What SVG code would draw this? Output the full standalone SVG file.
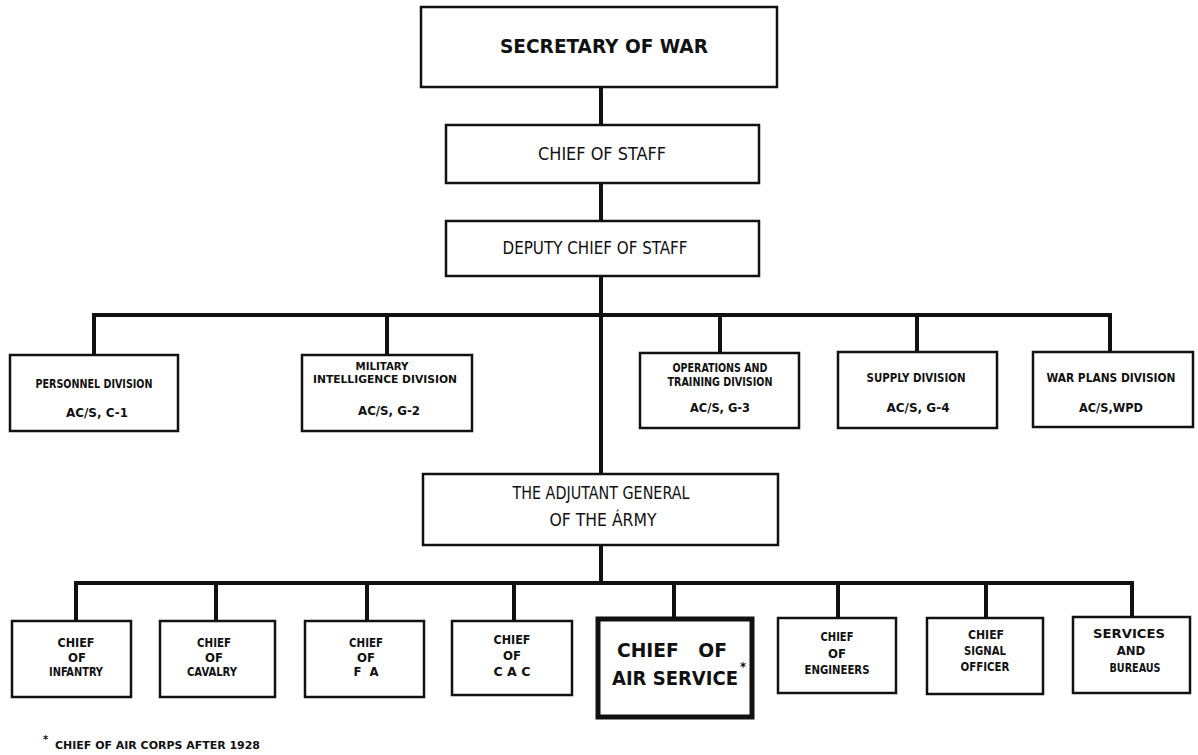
<svg xmlns="http://www.w3.org/2000/svg" width="1198" height="755" viewBox="0 0 1198 755">
<style>
.box{fill:#fff;stroke:#111;stroke-width:2.5}
.thick{fill:#fff;stroke:#111;stroke-width:5}
.c{fill:none;stroke:#111;stroke-width:4;stroke-linecap:square}
text{font-family:"DejaVu Sans Condensed","DejaVu Sans","Liberation Sans",sans-serif;font-weight:bold;fill:#111;text-anchor:middle}
.big{font-size:20px}
.mid{font-size:17px;font-weight:normal}
.sm{font-size:13px}
.xs{font-size:11px}
.fn{font-size:11px;text-anchor:start}
</style>
<rect width="1198" height="755" fill="#fff"/>
<g id="connectors">
<path class="c" d="M601 87V125M601 183V221M601 276V474M601 545V583"/>
<path class="c" d="M94 355V315H1110V352M387 315V355M720 315V353M917 315V352"/>
<path class="c" d="M76 621V583H1132V617M216 583V621M367 583V621M514 583V621M674 583V619M838 583V618M986 583V618"/>
</g>
<g id="secretary">
<rect class="box" x="421" y="7" width="356" height="80"/>
<text class="big" x="604" y="53" textLength="208" lengthAdjust="spacingAndGlyphs">SECRETARY OF WAR</text>
</g>
<g id="chief-of-staff">
<rect class="box" x="446" y="125" width="313" height="58"/>
<text class="mid" x="602" y="160" textLength="128" lengthAdjust="spacingAndGlyphs">CHIEF OF STAFF</text>
</g>
<g id="deputy">
<rect class="box" x="446" y="221" width="313" height="55"/>
<text class="mid" x="595" y="254" textLength="185" lengthAdjust="spacingAndGlyphs">DEPUTY CHIEF OF STAFF</text>
</g>
<g id="personnel">
<rect class="box" x="10" y="355" width="168" height="76"/>
<text class="sm" x="94" y="388" textLength="117" lengthAdjust="spacingAndGlyphs">PERSONNEL DIVISION</text>
<text class="sm" x="97" y="417" textLength="62" lengthAdjust="spacingAndGlyphs">AC/S, C-1</text>
</g>
<g id="military-intelligence">
<rect class="box" x="302" y="355" width="170" height="76"/>
<text class="xs" x="382" y="370" textLength="53" lengthAdjust="spacingAndGlyphs">MILITARY</text>
<text class="xs" x="385" y="383" textLength="144" lengthAdjust="spacingAndGlyphs">INTELLIGENCE DIVISION</text>
<text class="sm" x="389" y="415" textLength="62" lengthAdjust="spacingAndGlyphs">AC/S, G-2</text>
</g>
<g id="operations">
<rect class="box" x="640" y="353" width="159" height="75"/>
<text class="sm" x="720" y="372" textLength="95" lengthAdjust="spacingAndGlyphs">OPERATIONS AND</text>
<text class="sm" x="720" y="386" textLength="105" lengthAdjust="spacingAndGlyphs">TRAINING DIVISION</text>
<text class="sm" x="720" y="412" textLength="60" lengthAdjust="spacingAndGlyphs">AC/S, G-3</text>
</g>
<g id="supply">
<rect class="box" x="838" y="352" width="159" height="76"/>
<text class="sm" x="916" y="382" textLength="99" lengthAdjust="spacingAndGlyphs">SUPPLY DIVISION</text>
<text class="sm" x="918" y="412" textLength="63" lengthAdjust="spacingAndGlyphs">AC/S, G-4</text>
</g>
<g id="war-plans">
<rect class="box" x="1033" y="352" width="160" height="75"/>
<text class="sm" x="1111" y="382" textLength="129" lengthAdjust="spacingAndGlyphs">WAR PLANS DIVISION</text>
<text class="sm" x="1111" y="412" textLength="64" lengthAdjust="spacingAndGlyphs">AC/S,WPD</text>
</g>
<g id="adjutant">
<rect class="box" x="423" y="474" width="355" height="71"/>
<text class="mid" x="601" y="499" textLength="177" lengthAdjust="spacingAndGlyphs">THE ADJUTANT GENERAL</text>
<text class="mid" x="603" y="526" textLength="107" lengthAdjust="spacingAndGlyphs">OF THE ÁRMY</text>
</g>
<g id="infantry">
<rect class="box" x="12" y="621" width="119" height="76"/>
<text class="sm" x="76" y="647" textLength="37" lengthAdjust="spacingAndGlyphs">CHIEF</text>
<text class="sm" x="77" y="662">OF</text>
<text class="sm" x="76" y="676" textLength="54" lengthAdjust="spacingAndGlyphs">INFANTRY</text>
</g>
<g id="cavalry">
<rect class="box" x="160" y="621" width="115" height="76"/>
<text class="sm" x="214" y="647" textLength="34" lengthAdjust="spacingAndGlyphs">CHIEF</text>
<text class="sm" x="214" y="662">OF</text>
<text class="sm" x="212" y="676" textLength="50" lengthAdjust="spacingAndGlyphs">CAVALRY</text>
</g>
<g id="field-artillery">
<rect class="box" x="305" y="621" width="119" height="76"/>
<text class="sm" x="366" y="647" textLength="34" lengthAdjust="spacingAndGlyphs">CHIEF</text>
<text class="sm" x="366" y="662">OF</text>
<text class="sm" x="366" y="676" xml:space="preserve">F  A</text>
</g>
<g id="coast-artillery">
<rect class="box" x="452" y="621" width="120" height="74"/>
<text class="sm" x="512" y="644" textLength="37" lengthAdjust="spacingAndGlyphs">CHIEF</text>
<text class="sm" x="512" y="660">OF</text>
<text class="sm" x="512" y="676" textLength="37" lengthAdjust="spacingAndGlyphs">C A C</text>
</g>
<g id="air-service">
<rect class="thick" x="598" y="619" width="154" height="98"/>
<text class="big" x="672" y="657" textLength="110" lengthAdjust="spacingAndGlyphs" xml:space="preserve">CHIEF   OF</text>
<text class="big" x="675" y="685" textLength="126" lengthAdjust="spacingAndGlyphs">AIR SERVICE</text>
<text class="sm" x="743" y="671">*</text>
</g>
<g id="engineers">
<rect class="box" x="778" y="618" width="118" height="75"/>
<text class="sm" x="837" y="641" textLength="33" lengthAdjust="spacingAndGlyphs">CHIEF</text>
<text class="sm" x="837" y="658">OF</text>
<text class="sm" x="837" y="674" textLength="65" lengthAdjust="spacingAndGlyphs">ENGINEERS</text>
</g>
<g id="signal">
<rect class="box" x="927" y="618" width="116" height="76"/>
<text class="sm" x="986" y="639" textLength="36" lengthAdjust="spacingAndGlyphs">CHIEF</text>
<text class="sm" x="985" y="655" textLength="42" lengthAdjust="spacingAndGlyphs">SIGNAL</text>
<text class="sm" x="985" y="671" textLength="49" lengthAdjust="spacingAndGlyphs">OFFICER</text>
</g>
<g id="services">
<rect class="box" x="1073" y="617" width="117" height="76"/>
<text class="sm" x="1129" y="638" textLength="72" lengthAdjust="spacingAndGlyphs">SERVICES</text>
<text class="sm" x="1131" y="655">AND</text>
<text class="sm" x="1135" y="672" textLength="51" lengthAdjust="spacingAndGlyphs">BUREAUS</text>
</g>
<g id="footnote">
<text class="fn" x="43" y="743">*</text>
<text class="fn" x="55" y="749" textLength="205" lengthAdjust="spacingAndGlyphs">CHIEF OF AIR CORPS AFTER 1928</text>
</g>
</svg>
